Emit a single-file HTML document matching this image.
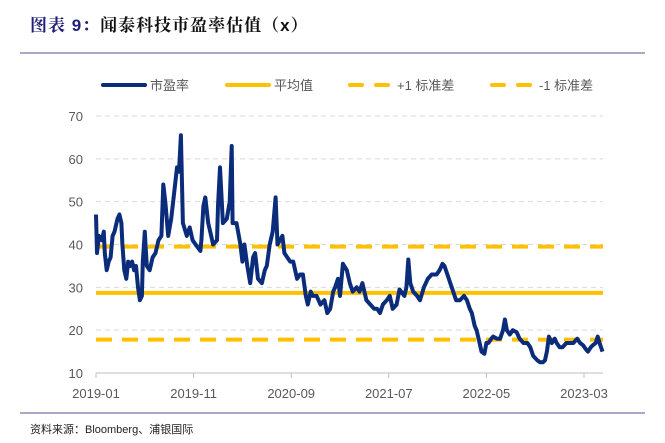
<!DOCTYPE html>
<html><head><meta charset="utf-8"><style>
html,body{margin:0;padding:0;background:#fff;}
body{width:665px;height:443px;position:relative;overflow:hidden;font-family:"Liberation Sans","Noto Sans CJK SC",sans-serif;}
</style></head><body>
<div style="position:absolute;left:30px;top:11px;font-size:17px;font-weight:bold;letter-spacing:1px;font-family:'Liberation Sans','Noto Serif CJK SC',serif;"><span style="color:#1f1f7a">图表 9：</span><span style="color:#111">闻泰科技市盈率估值（x）</span></div>
<svg id="chart" width="665" height="443" style="position:absolute;left:0;top:0" xmlns="http://www.w3.org/2000/svg"></svg>
<script>
const monthIdx=[0,.1,.3,.6,.8,.9,1.1,1.3,1.5,1.7,1.9,2.2,2.4,2.6,2.7,2.9,3.1,3.3,3.5,3.7,3.9,4.1,4.3,4.5,4.7,4.8,5.0,5.2,5.5,5.8,6.1,6.4,6.7,6.9,7.1,7.4,7.7,8.1,8.3,8.5,8.7,8.9,9.3,9.6,9.9,10.2,10.7,10.8,11.0,11.2,11.5,11.8,12.0,12.4,12.5,12.7,13.0,13.4,13.7,13.9,14.0,14.4,14.8,15.0,15.2,15.5,15.8,16.1,16.3,16.6,17.0,17.3,17.5,17.8,18.1,18.4,18.6,19.1,19.3,19.6,19.9,20.2,20.6,20.9,21.2,21.5,21.7,22.0,22.2,22.6,23.0,23.4,23.7,24.0,24.3,24.5,24.8,25.0,25.3,25.7,26.0,26.3,26.7,27.0,27.3,27.7,28.1,28.5,28.8,29.1,29.4,29.8,30.1,30.4,30.8,31.1,31.6,31.8,32.0,32.2,32.5,32.9,33.2,33.6,34.0,34.4,34.9,35.2,35.5,35.7,36.0,36.3,36.6,36.9,37.3,37.7,38.0,38.3,38.5,38.8,39.0,39.3,39.5,39.8,40.0,40.2,40.5,40.7,41.1,41.4,41.7,41.9,42.1,42.4,42.7,43.1,43.4,43.8,44.2,44.5,44.8,45.2,45.5,45.8,46.0,46.2,46.4,46.7,47.0,47.2,47.5,47.8,48.2,48.6,48.9,49.3,49.6,49.9,50.2,50.4,50.7,50.9,51.2,51.4,51.6,51.9];
const peValues=[47,38,42,41,43,38,34,36,37,42,43,46,47,45,40,34,32,36,35,36,34,35,30,27,28,36,43,35,34,37,38,41,42,54,50,42,46,54,58,57,65.5,45,42,44,41,40,38.5,41,49,51,45,42,40,41,49,58,45,46,50,63,45,45,40,36,40,35,31,37,38,32,31,34,35,40,43,51,40,42,38,37,36,36,32,33,33,28,26,29,28,28,26,27,24,25,29,30,32,28,35.5,34,31,29,30,29,31,27,26,25,25,24,26,27,28,25,26,29.5,28,30,36.5,31,29,28,27,30,32,33,33,34,35.5,35,33,31,29,27,27,28,27,25,24,21,20,17,15,14.5,17,17,18,18.5,18,18,20,22.5,20,19,20,19.5,18,17,17,16,14,13,12.5,12.5,13,15,18.5,17,18,17,16,16,17,17,17,18,17,16.5,15.5,15,16,16.5,17,18.5,17,15];
const meanPE=28.7, plus1SD=39.5, minus1SD=17.8;
const yTicks=[10,20,30,40,50,60,70];
const xTickLabels=["2019-01","2019-11","2020-09","2021-07","2022-05","2023-03"];
const xTickMonths=[0,10,20,30,40,50];

const NS="http://www.w3.org/2000/svg";
const svg=document.getElementById('chart');
const X0=96,X1=603,Y0=373,PXM=9.76,PXV=4.283;
const xs=m=>X0+m*PXM, ys=v=>Y0-(v-10)*PXV;
function mk(t,a){const e=document.createElementNS(NS,t);for(const k in a)e.setAttribute(k,a[k]);svg.appendChild(e);return e;}
let r=mk('line',{x1:20,x2:645,y1:53,y2:53,stroke:'#a9a9c9','stroke-width':2});


r=mk('line',{x1:20,x2:645,y1:413,y2:413,stroke:'#8c8cba','stroke-width':1.5});


yTicks.forEach(v=>{
  if(v>10){const g=mk('line',{x1:X0,x2:X1,y1:ys(v),y2:ys(v),stroke:'#d9d9d9','stroke-width':1,'stroke-dasharray':'5,4'});
  
  }
  const t=mk('text',{x:83,y:ys(v)+5,'text-anchor':'end','font-size':13,fill:'#595959'});t.textContent=v;
  
  
});
const ax=mk('line',{x1:X0,x2:X1,y1:Y0,y2:Y0,stroke:'#bfbfbf','stroke-width':1});


xTickMonths.forEach((m,i)=>{
  const tk=mk('line',{x1:xs(m),x2:xs(m),y1:Y0,y2:Y0+5,stroke:'#bfbfbf'});
  
  
  const t=mk('text',{x:xs(m),y:398,'text-anchor':'middle','font-size':13,fill:'#595959'});t.textContent=xTickLabels[i];
  
  
});
const ref=(v,dash,name)=>{const l=mk('line',{x1:X0,x2:X1,y1:ys(v),y2:ys(v),stroke:'#ffc000','stroke-width':4});if(dash)l.setAttribute('stroke-dasharray','16,10');
  
  };
ref(plus1SD,true,'plus-1sd-line');ref(minus1SD,true,'minus-1sd-line');ref(meanPE,false,'mean-line');
const pts=monthIdx.map((m,i)=>xs(m).toFixed(1)+','+ys(peValues[i]).toFixed(1)).join(' ');
const pl=mk('polyline',{points:pts,fill:'none',stroke:'#0a2c7a','stroke-width':4,'stroke-linejoin':'round'});


const leg=[["市盈率",103,'#0a2c7a',null],["平均值",227,'#ffc000',null],["+1 标准差",350,'#ffc000','12,14'],["-1 标准差",492,'#ffc000','12,14']];
leg.forEach(([lab,x,c,d])=>{
  const l=mk('line',{x1:x,x2:x+42,y1:85,y2:85,stroke:c,'stroke-width':4,'stroke-linecap':'round'});if(d)l.setAttribute('stroke-dasharray',d);
  
  
  const t=mk('text',{x:x+47,y:90,'font-size':13,fill:'#595959'});t.textContent=lab;
  
  
});
const f=mk('text',{x:30,y:433,'font-size':11,fill:'#222'});f.textContent='资料来源：Bloomberg、浦银国际';


</script>
</body></html>
